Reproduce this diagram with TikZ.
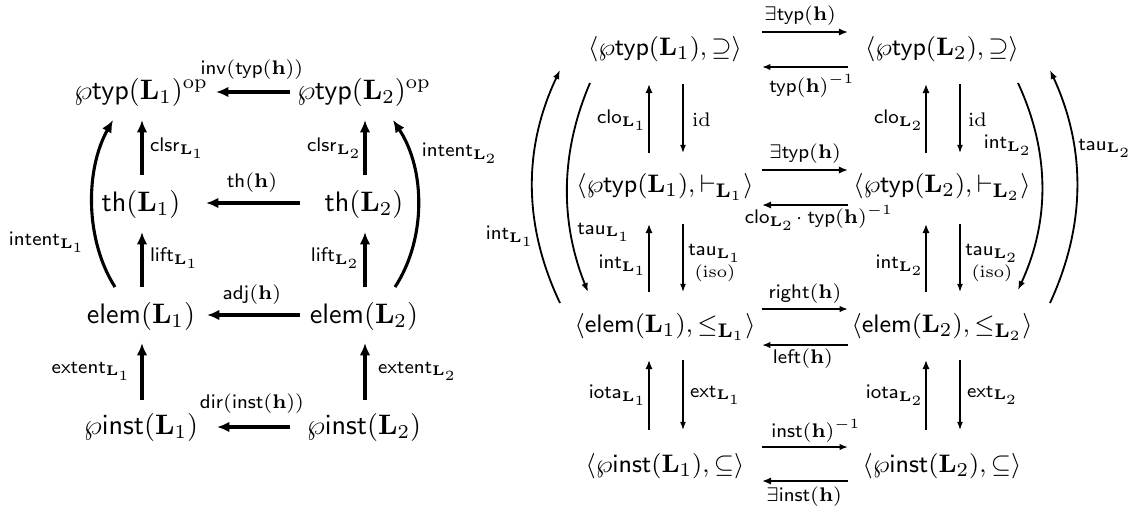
\documentclass[tikz,border=0pt]{standalone}
\usetikzlibrary{arrows.meta,calc}
\begin{document}
\begin{tikzpicture}[x=0.355pt,y=-0.355pt,
  every node/.style={inner sep=0pt,outer sep=0pt},
  obj/.style={font=\fontsize{10}{12}\selectfont},
  robj/.style={font=\fontsize{9.4}{11.3}\selectfont},
  lab/.style={font=\fontsize{7.5}{9}\selectfont},
  lthick/.style={line width=1.1pt,-{Latex[length=4.4pt,width=3.8pt]}},
  rthick/.style={line width=0.9pt,-{Latex[length=3.2pt,width=2.6pt]}},
  rmed/.style={line width=0.58pt,-{Latex[length=3pt,width=2.3pt]}},
  rthin/.style={line width=0.45pt,-{Latex[length=2.9pt,width=2.1pt]}},
  rcurve/.style={line width=0.65pt,-{Latex[length=3.2pt,width=2.4pt]}}]
\path[use as bounding box] (0,0) rectangle (1141,517);
% ---------- left diagram ----------
\node[obj] (A1) at (141,92) {$\wp\mathsf{typ}(\mathbf{L}_1)^{\mathrm{op}}$};
\node[obj] (A2) at (364,92) {$\wp\mathsf{typ}(\mathbf{L}_2)^{\mathrm{op}}$};
\node[obj] (T1) at (141,204) {$\mathsf{th}(\mathbf{L}_1)$};
\node[obj] (T2) at (364,204) {$\mathsf{th}(\mathbf{L}_2)$};
\node[obj] (E1) at (141,316) {$\mathsf{elem}(\mathbf{L}_1)$};
\node[obj] (E2) at (364,316) {$\mathsf{elem}(\mathbf{L}_2)$};
\node[obj] (P1) at (141,427) {$\wp\mathsf{inst}(\mathbf{L}_1)$};
\node[obj] (P2) at (364,427) {$\wp\mathsf{inst}(\mathbf{L}_2)$};

\draw[lthick] ($(A2)+(-74,0)$) -- ($(A1)+(75,0)$);
\draw[lthick] ($(T2)+(-64,-1)$) -- ($(T1)+(65,-1)$);
\draw[lthick] ($(E2)+(-64,-1)$) -- ($(E1)+(66,-1)$);
\draw[lthick] ($(P2)+(-74,0)$) -- ($(P1)+(76,0)$);
\draw[lthick] ($(T1)+(1,-29)$) -- ($(A1)+(1,28)$);
\draw[lthick] ($(E1)+(1,-29)$) -- ($(T1)+(1,28)$);
\draw[lthick] ($(P1)+(1,-27)$) -- ($(E1)+(1,27)$);
\draw[lthick] ($(T2)+(1,-29)$) -- ($(A2)+(1,28)$);
\draw[lthick] ($(E2)+(1,-29)$) -- ($(T2)+(1,28)$);
\draw[lthick] ($(P2)+(1,-27)$) -- ($(E2)+(1,27)$);
\draw[lthick] ($(E1)+(-26,-29)$) .. controls ($(E1)+(-56,-76)$) and ($(A1)+(-56,78)$) .. ($(A1)+(-28,28)$);
\draw[lthick] ($(E2)+(31,-29)$) .. controls ($(E2)+(62,-76)$) and ($(A2)+(62,78)$) .. ($(A2)+(29,28)$);

\node[lab] (l1) at (252,70) {$\mathsf{inv}(\mathsf{typ}(\mathbf{h}))$};
\node[lab] (l2) at (252,183) {$\mathsf{th}(\mathbf{h})$};
\node[lab] (l3) at (252,295) {$\mathsf{adj}(\mathbf{h})$};
\node[lab] (l4) at (252,404) {$\mathsf{dir}(\mathsf{inst}(\mathbf{h}))$};
\node[lab,anchor=west] (l5) at (150,148) {$\mathsf{clsr}_{\mathbf{L}_1}$};
\node[lab,anchor=east] (l6) at (362,148) {$\mathsf{clsr}_{\mathbf{L}_2}$};
\node[lab,anchor=west] (l7) at (150,258) {$\mathsf{lift}_{\mathbf{L}_1}$};
\node[lab,anchor=east] (l8) at (360,258) {$\mathsf{lift}_{\mathbf{L}_2}$};
\node[lab,anchor=east] (l9) at (131,371) {$\mathsf{extent}_{\mathbf{L}_1}$};
\node[lab,anchor=west] (l10) at (378,371) {$\mathsf{extent}_{\mathbf{L}_2}$};
\node[lab] (l11) at (47,242) {$\mathsf{intent}_{\mathbf{L}_1}$};
\node[lab] (l12) at (460,153) {$\mathsf{intent}_{\mathbf{L}_2}$};
% ---------- right diagram ----------
\node[robj] (B1) at (665,49) {$\langle\wp\mathsf{typ}(\mathbf{L}_1),\supseteq\rangle$};
\node[robj] (B2) at (942,49) {$\langle\wp\mathsf{typ}(\mathbf{L}_2),\supseteq\rangle$};
\node[robj] (C1) at (665,187) {$\langle\wp\mathsf{typ}(\mathbf{L}_1),\vdash_{\mathbf{L}_1}\rangle$};
\node[robj] (C2) at (942,187) {$\langle\wp\mathsf{typ}(\mathbf{L}_2),\vdash_{\mathbf{L}_2}\rangle$};
\node[robj] (D1) at (665,327) {$\langle\mathsf{elem}(\mathbf{L}_1),\leq_{\mathbf{L}_1}\rangle$};
\node[robj] (D2) at (942,327) {$\langle\mathsf{elem}(\mathbf{L}_2),\leq_{\mathbf{L}_2}\rangle$};
\node[robj] (F1) at (665,466) {$\langle\wp\mathsf{inst}(\mathbf{L}_1),\subseteq\rangle$};
\node[robj] (F2) at (942,466) {$\langle\wp\mathsf{inst}(\mathbf{L}_2),\subseteq\rangle$};

% horizontal
\draw[rthick] ($(B1)+(97,-17)$) -- ($(B2)+(-94,-17)$);
\draw[rmed]   ($(B2)+(-94,18)$) -- ($(B1)+(97,18)$);
\draw[rthick] ($(C1)+(97,-17)$) -- ($(C2)+(-94,-17)$);
\draw[rthick] ($(C2)+(-94,18)$) -- ($(C1)+(97,18)$);
\draw[rmed]   ($(D1)+(97,-18)$) -- ($(D2)+(-94,-18)$);
\draw[rmed]   ($(D2)+(-94,18)$) -- ($(D1)+(97,18)$);
\draw[rmed]   ($(F1)+(97,-19)$) -- ($(F2)+(-94,-19)$);
\draw[rthick] ($(F2)+(-94,15)$) -- ($(F1)+(97,15)$);
% vertical L1
\draw[rthick] ($(C1)+(-16,-34)$) -- ($(B1)+(-16,35)$);
\draw[rthin]  ($(B1)+(18,35)$) -- ($(C1)+(18,-34)$);
\draw[rthick] ($(D1)+(-16,-35)$) -- ($(C1)+(-16,37)$);
\draw[rthin]  ($(C1)+(18,37)$) -- ($(D1)+(18,-35)$);
\draw[rthick] ($(F1)+(-16,-36)$) -- ($(D1)+(-16,33)$);
\draw[rthin]  ($(D1)+(18,33)$) -- ($(F1)+(18,-36)$);
% vertical L2
\draw[rthick] ($(C2)+(-16,-34)$) -- ($(B2)+(-16,35)$);
\draw[rthin]  ($(B2)+(18,35)$) -- ($(C2)+(18,-34)$);
\draw[rthick] ($(D2)+(-16,-35)$) -- ($(C2)+(-16,37)$);
\draw[rthin]  ($(C2)+(18,37)$) -- ($(D2)+(18,-35)$);
\draw[rthick] ($(F2)+(-16,-36)$) -- ($(D2)+(-16,33)$);
\draw[rthin]  ($(D2)+(18,33)$) -- ($(F2)+(18,-36)$);
% curves
\draw[rcurve] ($(D1)+(-105,-24)$) .. controls ($(D1)+(-142,-102)$) and ($(B1)+(-142,99)$) .. ($(B1)+(-105,21)$);
\draw[rcurve] ($(B1)+(-75,34)$) .. controls ($(B1)+(-105,104)$) and ($(D1)+(-105,-105)$) .. ($(D1)+(-77,-35)$);
\draw[rcurve] ($(B2)+(76,34)$) .. controls ($(B2)+(108,103)$) and ($(D2)+(108,-106)$) .. ($(D2)+(76,-37)$);
\draw[rcurve] ($(D2)+(108,-24)$) .. controls ($(D2)+(144,-102)$) and ($(B2)+(144,99)$) .. ($(B2)+(108,21)$);

% labels
\node[lab] (m1) at (800,16) {$\exists\mathsf{typ}(\mathbf{h})$};
\node[lab] (m2) at (812,86) {$\mathsf{typ}(\mathbf{h})^{-1}$};
\node[lab] (m3) at (805,154) {$\exists\mathsf{typ}(\mathbf{h})$};
\node[lab] (m4) at (819,218) {$\mathsf{clo}_{\mathbf{L}_2}\!\cdot\mathsf{typ}(\mathbf{h})^{-1}$};
\node[lab] (m5) at (805,294) {$\mathsf{right}(\mathbf{h})$};
\node[lab] (m6) at (803,359) {$\mathsf{left}(\mathbf{h})$};
\node[lab] (m7) at (816,431) {$\mathsf{inst}(\mathbf{h})^{-1}$};
\node[lab] (m8) at (804,497) {$\exists\mathsf{inst}(\mathbf{h})$};

\node[lab,anchor=east] (n1) at (647,120) {$\mathsf{clo}_{\mathbf{L}_1}$};
\node[lab,anchor=west] (n2) at (692,120) {$\mathrm{id}$};
\node[lab,anchor=east] (n3) at (924,120) {$\mathsf{clo}_{\mathbf{L}_2}$};
\node[lab,anchor=west] (n4) at (968,120) {$\mathrm{id}$};
\node[lab,anchor=east] (n5) at (647,265) {$\mathsf{int}_{\mathbf{L}_1}$};
\node[lab,align=center] (n6) at (715,263) {$\mathsf{tau}_{\mathbf{L}_1}$\\[-1pt]{\fontsize{6.3}{7}\selectfont$(\mathrm{iso})$}};
\node[lab,anchor=east] (n7) at (924,265) {$\mathsf{int}_{\mathbf{L}_2}$};
\node[lab,align=center] (n8) at (992,263) {$\mathsf{tau}_{\mathbf{L}_2}$\\[-1pt]{\fontsize{6.3}{7}\selectfont$(\mathrm{iso})$}};
\node[lab,anchor=east] (n9) at (647,395) {$\mathsf{iota}_{\mathbf{L}_1}$};
\node[lab,anchor=west] (n10) at (690,395) {$\mathsf{ext}_{\mathbf{L}_1}$};
\node[lab,anchor=east] (n11) at (924,395) {$\mathsf{iota}_{\mathbf{L}_2}$};
\node[lab,anchor=west] (n12) at (967,395) {$\mathsf{ext}_{\mathbf{L}_2}$};
\node[lab] (n13) at (510,236) {$\mathsf{int}_{\mathbf{L}_1}$};
\node[lab] (n14) at (604,232) {$\mathsf{tau}_{\mathbf{L}_1}$};
\node[lab] (n15) at (1008,145) {$\mathsf{int}_{\mathbf{L}_2}$};
\node[lab] (n16) at (1105,148) {$\mathsf{tau}_{\mathbf{L}_2}$};
\end{tikzpicture}
\end{document}
